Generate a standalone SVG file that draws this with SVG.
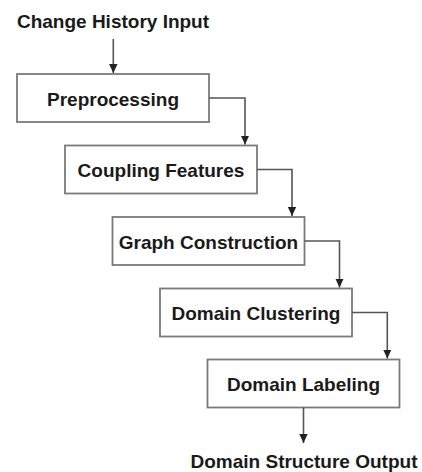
<svg xmlns="http://www.w3.org/2000/svg" width="422" height="472" viewBox="0 0 422 472">
<style>
.box{fill:#ffffff;stroke:#7a7a7a;stroke-width:1.8}
.lbl{font-family:"Liberation Sans",Arial,sans-serif;font-weight:bold;font-size:19px;fill:#1a1a1a;text-anchor:middle}
.con{fill:none;stroke:#555555;stroke-width:1.6}
</style>
<defs>
<marker id="ah" markerWidth="10" markerHeight="10" refX="9" refY="5" orient="auto" markerUnits="userSpaceOnUse" viewBox="0 0 10 10">
<path d="M0,0.8 L9,5 L0,9.2 Z" fill="#222222"/>
</marker>
</defs>
<rect width="422" height="472" fill="#ffffff"/>
<g id="input">
<text class="lbl" x="113" y="27.5">Change History Input</text>
</g>
<g id="preprocessing">
<rect class="box" x="17" y="74" width="192" height="48"/>
<text class="lbl" x="113" y="105.5">Preprocessing</text>
</g>
<g id="coupling">
<rect class="box" x="65" y="145.5" width="192" height="48"/>
<text class="lbl" x="161" y="177">Coupling Features</text>
</g>
<g id="graph">
<rect class="box" x="112.5" y="217" width="192" height="48"/>
<text class="lbl" x="208.5" y="248.5">Graph Construction</text>
</g>
<g id="clustering">
<rect class="box" x="160" y="288.5" width="192" height="48"/>
<text class="lbl" x="256" y="320">Domain Clustering</text>
</g>
<g id="labeling">
<rect class="box" x="207.5" y="359.5" width="192" height="48"/>
<text class="lbl" x="303.5" y="391">Domain Labeling</text>
</g>
<g id="output">
<text class="lbl" x="304" y="468">Domain Structure Output</text>
</g>
<g id="connectors">
<path class="con" d="M113.3,39 V73" marker-end="url(#ah)"/>
<path class="con" d="M209,98 H245 V144.5" marker-end="url(#ah)"/>
<path class="con" d="M257,169.5 H292 V216" marker-end="url(#ah)"/>
<path class="con" d="M304.5,241 H339.5 V287.5" marker-end="url(#ah)"/>
<path class="con" d="M352,312.5 H387.3 V358.5" marker-end="url(#ah)"/>
<path class="con" d="M303.5,407.5 V443" marker-end="url(#ah)"/>
</g>
</svg>
